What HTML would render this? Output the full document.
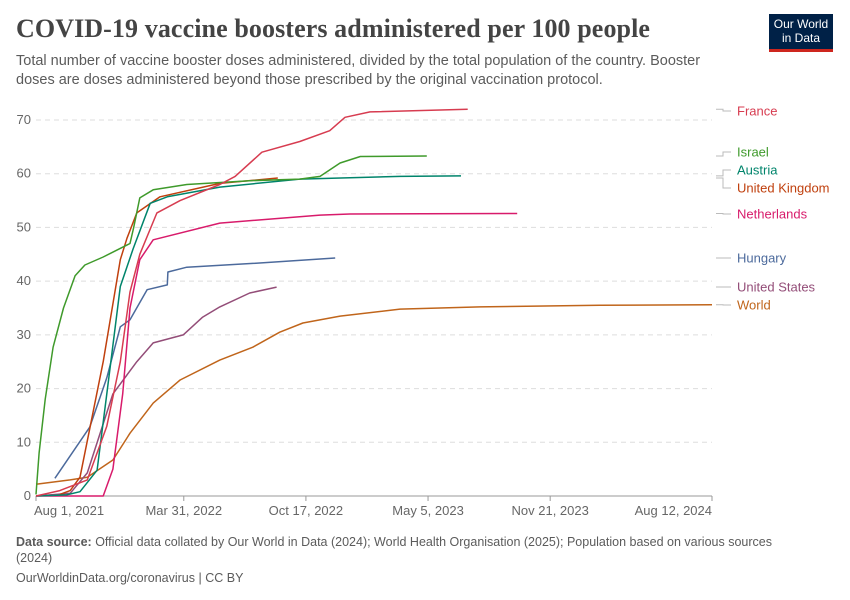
<!DOCTYPE html>
<html><head><meta charset="utf-8"><style>
body{margin:0;background:#fff;font-family:"Liberation Sans",sans-serif;}
#wrap{position:relative;width:850px;height:600px;overflow:hidden}
h1{position:absolute;left:16px;top:14px;margin:0;font-family:"Liberation Serif",serif;font-weight:bold;font-size:26px;color:#444;letter-spacing:0.1px}
.sub{position:absolute;left:16px;top:52px;width:720px;font-size:14.5px;line-height:19px;color:#5b5b5b}
.logo{position:absolute;left:769px;top:14px;width:64px;height:38px;background:#002147;color:#fff;font-size:12px;line-height:14px;text-align:center;padding-top:3px;box-sizing:border-box;border-bottom:3px solid #ce261e}
.foot{position:absolute;left:16px;font-size:12.5px;color:#5b5b5b;line-height:16px}
</style></head><body>
<div id="wrap">
<h1>COVID-19 vaccine boosters administered per 100 people</h1>
<div class="sub">Total number of vaccine booster doses administered, divided by the total population of the country. Booster doses are doses administered beyond those prescribed by the original vaccination protocol.</div>
<div class="logo">Our World<br>in Data</div>
<svg id="chart" width="850" height="600" style="position:absolute;left:0;top:0"></svg>
<div class="foot" style="top:534px;width:780px"><b>Data source:</b> Official data collated by Our World in Data (2024); World Health Organisation (2025); Population based on various sources (2024)</div>
<div class="foot" style="top:570px">OurWorldinData.org/coronavirus | CC BY</div>
</div>
<script>
// x values = days since Aug 1, 2021
const yTicks=[0,10,20,30,40,50,60,70];
const xTickDays=[0,242,442,642,842,1107];
const xTickLabels=["Aug 1, 2021","Mar 31, 2022","Oct 17, 2022","May 5, 2023","Nov 21, 2023","Aug 12, 2024"];
const seriesNames=["France","Israel","Austria","United Kingdom","Netherlands","Hungary","United States","World"];
const franceDays=[0,39,84,116,138,154,170,198,236,301,326,370,432,481,506,547,707];
const franceVals=[0,1,3,13,25,38,45,52.7,55,58,59.5,64,66,68,70.5,71.5,72];
const israelDays=[0,5,15,28,45,64,80,110,154,160,170,192,247,350,432,465,498,531,640];
const israelVals=[0.3,8,18,27.7,35,41,43,44.5,47,50,55.5,57,58,58.7,59,59.5,62,63.2,63.3];
const austriaDays=[0,50,72,100,116,138,159,187,215,301,432,596,696];
const austriaVals=[0,0.2,0.8,4.8,19,39,46,54.5,55.7,57.5,59,59.5,59.6];
const ukDays=[39,56,72,110,138,149,165,203,301,396];
const ukVals=[0.3,1,3.5,25,44,48,52.7,55.7,58.2,59.2];
const nlDays=[0,110,126,142,154,170,192,301,465,514,788];
const nlVals=[0,0,5,19,35,44,47.7,50.8,52.3,52.5,52.6];
const huDays=[31,88,116,138,154,182,215,216,247,355,490];
const huVals=[3.3,12.8,22,31.5,32.8,38.4,39.3,41.7,42.6,43.3,44.3];
const usDays=[0,56,84,126,165,192,241,273,301,350,394];
const usVals=[0,0.5,4.3,19,25,28.5,30,33.3,35.2,37.8,38.9];
const worldDays=[0,56,84,126,154,192,236,301,355,399,437,498,596,727,923,1107];
const worldVals=[2.2,3,3.5,6.7,11.7,17.3,21.6,25.3,27.7,30.5,32.2,33.5,34.8,35.2,35.5,35.6];
const labelY=[111,152,170,188,214,258,287,305];
const colors=["#d73c50","#3f9a2b","#00846b","#c0400e","#d81b6b","#4c6a9c","#934d78","#c0651b"];
const allDays=[franceDays,israelDays,austriaDays,ukDays,nlDays,huDays,usDays,worldDays];
const allVals=[franceVals,israelVals,austriaVals,ukVals,nlVals,huVals,usVals,worldVals];

const X0=36,X1=712,Y0=496,Y1=120,DMAX=1107,VMAX=70;
const xs=d=>X0+(X1-X0)*d/DMAX;
const ys=v=>Y0-(Y0-Y1)*v/VMAX;
const svg=document.getElementById('chart');
const NS="http://www.w3.org/2000/svg";
function mk(t,a){const e=document.createElementNS(NS,t);for(const k in a)e.setAttribute(k,a[k]);svg.appendChild(e);return e;}
yTicks.forEach(v=>{
  if(v>0){const g=mk('line',{x1:X0,x2:X1,y1:ys(v),y2:ys(v),stroke:'#ddd','stroke-dasharray':'5,4'});
  
  }
  const t=mk('text',{x:31,y:ys(v)+4,'text-anchor':'end','font-size':13,fill:'#666','font-family':'Liberation Sans'});
  t.textContent=v;
  
  
});
const ax=mk('line',{x1:X0,x2:X1,y1:Y0,y2:Y0,stroke:'#999'});


xTickDays.forEach((d,i)=>{
  const tk=mk('line',{x1:xs(d),x2:xs(d),y1:Y0,y2:Y0+5,stroke:'#999'});
  
  
  const t=mk('text',{x:xs(d),y:Y0+19,'text-anchor':i==0?'start':(i==xTickDays.length-1?'end':'middle'),'font-size':13,fill:'#666','font-family':'Liberation Sans'});
  if(i==0)t.setAttribute('x',xs(d)-2);
  t.textContent=xTickLabels[i];
  
  
});
for(let s=seriesNames.length-1;s>=0;s--){
  const pts=allDays[s].map((d,i)=>xs(d).toFixed(1)+','+ys(allVals[s][i]).toFixed(1)).join(' ');
  const p=mk('polyline',{points:pts,fill:'none',stroke:colors[s],'stroke-width':1.5,'stroke-linejoin':'round'});
  
  
}
seriesNames.forEach((n,s)=>{
  const vals=allVals[s];const ey=ys(vals[vals.length-1]);
  const c=mk('polyline',{points:`716,${ey} 723,${ey} 723,${labelY[s]} 731,${labelY[s]}`,fill:'none',stroke:'#bbb','stroke-width':1});
  
  
  const t=mk('text',{x:737,y:labelY[s]+4.5,'font-size':13,fill:colors[s],'font-family':'Liberation Sans'});
  t.textContent=n;
  
  
});
</script>
</body></html>
